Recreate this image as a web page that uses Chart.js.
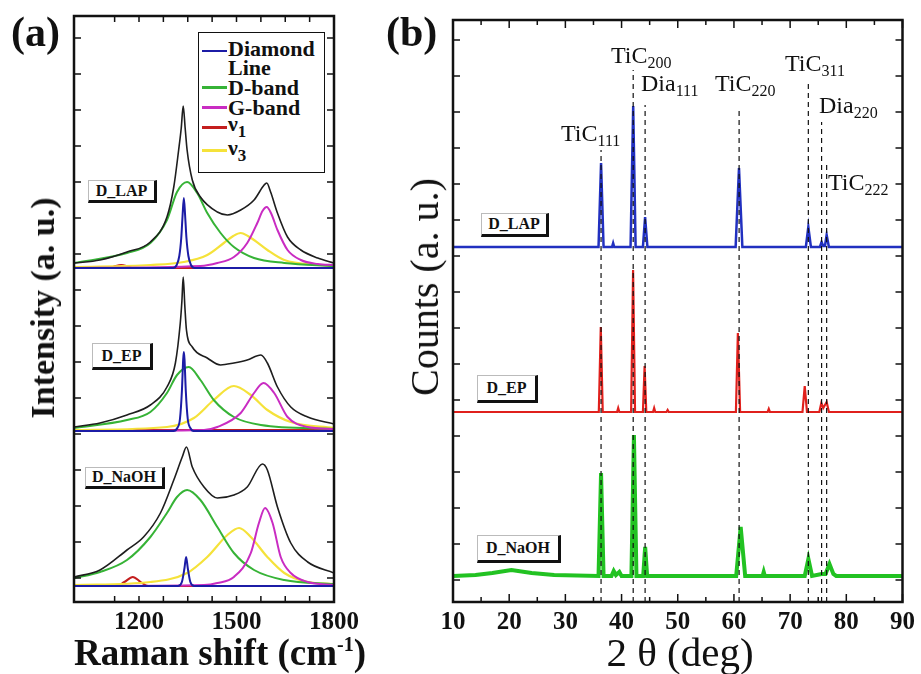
<!DOCTYPE html>
<html>
<head>
<meta charset="utf-8">
<script src="https://cdn.jsdelivr.net/npm/chart.js@4.4.1/dist/chart.umd.min.js"></script>
<style>
  body { margin: 0; background: #fff; }
  #fig { position: relative; width: 921px; height: 674px; overflow: hidden;
         font-family: "Liberation Serif", "Times New Roman", serif; color: #111; }
  canvas { position: absolute; top: 0; }
  .t { position: absolute; white-space: nowrap; line-height: 1; }
  .rot { transform: translate(-50%, -50%) rotate(-90deg); }
  .ctr { transform: translate(-50%, -50%); }
  .tag { position: absolute; box-sizing: border-box; background: #fff;
         border-top: 1px solid #bbb; border-left: 1px solid #bbb;
         border-right: 3px solid #111; border-bottom: 3px solid #111;
         font-weight: bold; font-size: 16px; text-align: center; }
  .pk { font-size: 24px; }
  .pk span { font-size: 16px; position: relative; top: 5px; }
  .leg { position: absolute; box-sizing: border-box; border: 1.5px solid #111; background: #fff; }
  .leg .s { position: absolute; left: 3px; width: 25px; }
  .leg .l { position: absolute; left: 29px; font-weight: bold; font-size: 22px; line-height: 1; white-space: nowrap; }
  .leg .l span { font-size: 17px; position: relative; top: 6px; }
</style>
</head>
<body>
<div id="fig">
  <canvas id="ramanChart" width="370" height="674" style="left:0"></canvas>
  <canvas id="xrdChart" width="551" height="674" style="left:370px"></canvas>

  <div class="t" style="left:11px;top:11px;font-size:42px;font-weight:bold">(a)</div>
  <div class="t" style="left:386px;top:11px;font-size:42px;font-weight:bold">(b)</div>

  <div class="t rot" style="left:43px;top:308px;font-size:34px;font-weight:bold">Intensity (a. u.)</div>
  <div class="t rot" style="left:425px;top:287px;font-size:40px">Counts (a. u.)</div>
  <div class="t ctr" style="left:220px;top:652px;font-size:37px;font-weight:bold">Raman shift (cm<sup style="font-size:20px">-1</sup>)</div>
  <div class="t ctr" style="left:680px;top:652px;font-size:41px">2 θ (deg)</div>

  <!-- leyenda del panel (a) -->
  <div class="leg" style="left:198px;top:32px;width:127px;height:141px">
    <div class="s" style="top:17px;height:2px;background:#1c1ca6"></div>
    <div class="l" style="top:5px">Diamond</div>
    <div class="l" style="top:24px">Line</div>
    <div class="s" style="top:53px;height:3px;background:#36b336"></div>
    <div class="l" style="top:44px">D-band</div>
    <div class="s" style="top:73px;height:3px;background:#c92cc2"></div>
    <div class="l" style="top:64px">G-band</div>
    <div class="s" style="top:93px;height:3px;background:#c41e1e"></div>
    <div class="l" style="top:80px">ν<span>1</span></div>
    <div class="s" style="top:116px;height:3px;background:#f5e23a"></div>
    <div class="l" style="top:104px">ν<span>3</span></div>
  </div>

  <!-- etiquetas de muestra -->
  <div class="tag" style="left:88px;top:180px;width:69px;height:23px;line-height:19px">D_LAP</div>
  <div class="tag" style="left:92px;top:343px;width:61px;height:27px;line-height:23px">D_EP</div>
  <div class="tag" style="left:85px;top:467px;width:80px;height:22px;line-height:18px">D_NaOH</div>
  <div class="tag" style="left:481px;top:213px;width:68px;height:24px;line-height:20px">D_LAP</div>
  <div class="tag" style="left:477px;top:375px;width:61px;height:28px;line-height:24px">D_EP</div>
  <div class="tag" style="left:477px;top:535px;width:84px;height:28px;line-height:24px">D_NaOH</div>

  <!-- picos de difracción -->
  <div class="t pk" style="left:561px;top:121px">TiC<span>111</span></div>
  <div class="t pk" style="left:611px;top:43px">TiC<span>200</span></div>
  <div class="t pk" style="left:641px;top:71px">Dia<span>111</span></div>
  <div class="t pk" style="left:715px;top:71px">TiC<span>220</span></div>
  <div class="t pk" style="left:785px;top:51px">TiC<span>311</span></div>
  <div class="t pk" style="left:819px;top:93px">Dia<span>220</span></div>
  <div class="t pk" style="left:828px;top:170px">TiC<span>222</span></div>
</div>

<script>
// ---- (a) Raman: [desplazamiento cm-1, intensidad sobre la línea base de cada muestra]
const lapSum = [[1000,5],[1080,8],[1163,16],[1235,26],[1286,51],[1307,81],[1322,118],[1330,140],[1336,162],[1342,140],[1348,118],[1364,88],[1389,71],[1441,56],[1472,53],[1513,58],[1554,68],[1585,83],[1593,85],[1605,76],[1626,55],[1657,31],[1698,18],[1750,10],[1800,5]];
const lapDia = [[1000,0],[1305,0],[1316,3],[1324,12],[1330,30],[1334,52],[1338,70],[1342,52],[1346,30],[1352,12],[1360,3],[1371,0],[1800,0]];
const lapD   = [[1000,5],[1163,15],[1235,25],[1286,48],[1317,76],[1348,86],[1379,75],[1410,55],[1451,35],[1492,21],[1554,10],[1647,5],[1800,2]];
const lapG   = [[1000,0],[1389,2],[1441,5],[1492,11],[1533,25],[1564,45],[1580,57],[1593,61],[1606,55],[1626,38],[1657,18],[1698,8],[1750,4],[1800,3]];
const lapV1  = [[1000,0],[1110,0],[1128,2],[1145,3],[1162,2],[1180,0],[1800,0]];
const lapV3  = [[1000,1],[1235,3],[1338,6],[1410,13],[1461,25],[1490,32],[1513,35],[1535,32],[1554,28],[1595,18],[1647,8],[1750,3],[1800,2]];

const epSum = [[1000,4],[1080,8],[1163,16],[1235,26],[1286,44],[1312,68],[1327,108],[1332,130],[1336,154],[1341,125],[1346,101],[1364,84],[1410,73],[1451,66],[1492,68],[1533,71],[1575,76],[1595,68],[1626,44],[1667,24],[1719,14],[1800,7]];
const epDia = [[1000,0],[1306,0],[1318,3],[1326,12],[1332,40],[1336,72],[1338,79],[1340,72],[1344,40],[1350,12],[1358,3],[1368,0],[1800,0]];
const epD   = [[1000,3],[1163,11],[1235,19],[1286,38],[1317,56],[1353,64],[1389,51],[1430,31],[1492,14],[1575,6],[1800,2]];
const epG   = [[1000,0],[1400,1],[1441,4],[1513,18],[1554,38],[1583,48],[1616,38],[1657,14],[1719,4],[1800,2]];
const epV1  = [[1000,1],[1800,1]];
const epV3  = [[1000,1],[1286,4],[1369,13],[1430,31],[1492,45],[1544,36],[1595,21],[1667,9],[1800,3]];

const naohSum = [[1000,9],[1080,16],[1163,36],[1214,49],[1266,73],[1307,106],[1333,129],[1346,139],[1364,119],[1400,99],[1441,88],[1492,91],[1533,99],[1580,122],[1595,116],[1626,79],[1667,43],[1719,24],[1800,13]];
const naohDia = [[1000,0],[1320,0],[1332,4],[1340,18],[1345,29],[1350,18],[1358,4],[1370,0],[1800,0]];
const naohD   = [[1000,8],[1080,14],[1163,26],[1235,49],[1286,73],[1317,89],[1348,96],[1389,86],[1441,59],[1492,33],[1554,16],[1647,6],[1800,2]];
const naohG   = [[1000,0],[1400,1],[1441,3],[1492,9],[1544,33],[1569,63],[1588,78],[1611,63],[1636,29],[1667,13],[1719,4],[1800,1]];
const naohV1  = [[1000,0],[1130,0],[1155,4],[1181,9],[1205,4],[1228,0],[1800,0]];
const naohV3  = [[1000,1],[1235,4],[1348,13],[1410,29],[1472,51],[1508,58],[1544,49],[1595,29],[1647,13],[1719,4],[1800,2]];

// desplazamiento vertical de cada espectro (LAP, EP, NaOH)
const ramanOffsets = [310, 147, -8];
const shiftLabels = [1200, 1500, 1800];

// ---- (b) DRX: [2θ, cuentas sobre la línea base]
const xrdLap = [[10,0],[35.9,0],[36.35,84],[36.8,0],[38.3,0],[38.5,4],[38.7,0],[41.6,0],[42.07,141],[42.5,0],[43.8,0],[44.19,30],[44.6,0],[60.3,0],[60.9,79],[61.5,0],[72.8,0],[73.24,20],[73.7,0],[75.3,0],[75.6,5],[75.9,1],[76.2,1],[76.5,12],[76.9,0],[90,0]];
const xrdEp = [[10,0],[35.95,0],[36.3,85],[36.65,0],[39.2,0],[39.4,4],[39.6,0],[41.7,0],[42.05,142],[42.4,0],[43.8,0],[44.1,46],[44.4,0],[45.6,0],[45.8,4],[46.0,0],[48.0,0],[48.2,2],[48.4,0],[60.35,0],[60.7,79],[61.1,0],[66.0,0],[66.2,3],[66.4,0],[72.2,0],[72.6,26],[73.0,0],[75.2,0],[75.55,9],[75.9,4],[76.5,10],[76.9,0],[90,0]];
const xrdNaoh = [[10,0],[14,1],[17,3],[20.4,6],[24,3],[28,1],[35.9,0],[36.35,103],[36.8,0],[38.2,0],[38.6,5],[39.0,1],[39.6,4],[40.0,0],[41.75,0],[42.2,141],[42.65,0],[43.85,0],[44.2,29],[44.55,0],[60.4,0],[61.2,49],[62.0,0],[65.1,0],[65.3,4],[65.5,0],[72.6,0],[73.25,17],[73.9,0],[75.6,2],[76.3,2],[77.0,12],[77.7,2],[78.2,0],[90,0]];
const xrdOffsets = [333, 168, 4];

// líneas de referencia (posición 2θ y altura superior)
const refPos  = [36.35, 42.07, 44.19, 60.92, 73.24, 75.6, 76.5];
const refTop  = [430, 510, 475, 473, 500, 458, 415];

/**
 * Marco con marcas interiores en los cuatro lados
 */
const framePlugin = {
  id: 'frame',
  afterDatasetsDraw(chart, args, o) {
    const { ctx, chartArea: a, scales } = chart;
    ctx.save();
    ctx.strokeStyle = '#111';
    ctx.lineWidth = 1.5;
    ctx.beginPath();
    scales.x.ticks.forEach(t => {
      const px = scales.x.getPixelForValue(t.value);
      const len = Math.abs(t.value % o.major) < 1e-6 ? o.majorLen : o.minorLen;
      ctx.moveTo(px, a.bottom); ctx.lineTo(px, a.bottom - len);
      ctx.moveTo(px, a.top); ctx.lineTo(px, a.top + len);
    });
    scales.y.ticks.forEach(t => {
      const py = scales.y.getPixelForValue(t.value);
      ctx.moveTo(a.left, py); ctx.lineTo(a.left + 7, py);
      ctx.moveTo(a.right, py); ctx.lineTo(a.right - 7, py);
    });
    ctx.stroke();
    ctx.lineWidth = 2.5;
    ctx.strokeRect(a.left, a.top, a.right - a.left, a.bottom - a.top);
    ctx.restore();
  }
};

const tickFont = { family: 'Liberation Serif', size: 25, weight: 'bold' };

function axes(xMin, xMax, xStep, labelFn, yMin, yMax) {
  return {
    x: {
      type: 'linear', min: xMin, max: xMax,
      ticks: { stepSize: xStep, autoSkip: false, maxRotation: 0, padding: 6,
               color: '#111', font: tickFont, callback: labelFn },
      grid: { display: false, drawTicks: false },
      border: { display: false },
      afterFit: s => { s.height = 40; }
    },
    y: {
      type: 'linear', min: yMin, max: yMax,
      ticks: { display: false, stepSize: 36 },
      grid: { display: false, drawTicks: false },
      border: { display: false },
      afterFit: s => { s.width = 0; }
    }
  };
}

function line(points, offset, color, width, extra) {
  return Object.assign({
    data: points.map(p => ({ x: p[0], y: p[1] + offset })),
    borderColor: color, borderWidth: width,
    pointRadius: 0, fill: false
  }, extra || {});
}

// ---- Gráfico (a)
const ramanSamples = [
  [lapSum, lapDia, lapG, lapD, lapV3, lapV1],
  [epSum, epDia, epG, epD, epV3, epV1],
  [naohSum, naohDia, naohG, naohD, naohV3, naohV1]
];
const ramanColors = ['#1e1e1e', '#1c1ca6', '#c92cc2', '#36b336', '#f5e23a', '#c41e1e'];
const ramanWidths = [1.6, 2, 2, 2, 2.2, 2];

const ramanSets = [];
ramanSamples.forEach((curves, i) => {
  curves.forEach((c, j) => {
    ramanSets.push(line(c, ramanOffsets[i], ramanColors[j], ramanWidths[j],
      { cubicInterpolationMode: 'monotone' }));
  });
});

new Chart(document.getElementById('ramanChart'), {
  type: 'line',
  data: { datasets: ramanSets },
  options: {
    responsive: false, animation: false, devicePixelRatio: 1,
    layout: { padding: { left: 74, right: 36, top: 16, bottom: 32 } },
    plugins: { legend: { display: false }, tooltip: { enabled: false },
               frame: { major: 150, majorLen: 6, minorLen: 6 } },
    scales: axes(1000, 1800, 75, v => shiftLabels.includes(v) ? String(v) : '', -24, 562)
  },
  plugins: [framePlugin]
});

// ---- Gráfico (b)
const xrdSets = [];
refPos.forEach((x, i) => {
  xrdSets.push({
    data: [{ x: x, y: -22 }, { x: x, y: refTop[i] }],
    borderColor: '#111', borderWidth: 1.2, borderDash: [5, 4],
    pointRadius: 0, fill: false
  });
});
xrdSets.push(line(xrdLap, xrdOffsets[0], '#2130c0', 2.5));
xrdSets.push(line(xrdEp, xrdOffsets[1], '#e0201c', 2.2));
xrdSets.push(line(xrdNaoh, xrdOffsets[2], '#22c222', 4));

new Chart(document.getElementById('xrdChart'), {
  type: 'line',
  data: { datasets: xrdSets },
  options: {
    responsive: false, animation: false, devicePixelRatio: 1,
    layout: { padding: { left: 83, right: 15, top: 20, bottom: 32 } },
    plugins: { legend: { display: false }, tooltip: { enabled: false },
               frame: { major: 10, majorLen: 8, minorLen: 5 } },
    scales: axes(10, 90, 5, v => (v % 10 === 0 ? String(v) : ''), -22, 560)
  },
  plugins: [framePlugin]
});
</script>
</body>
</html>
